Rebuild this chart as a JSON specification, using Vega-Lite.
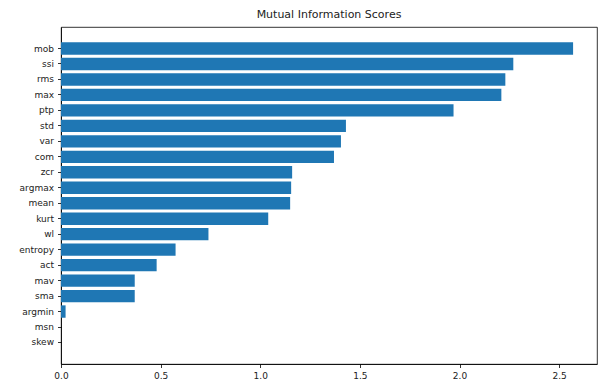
{
  "$schema": "https://vega.github.io/schema/vega-lite/v6.json",
  "autosize": {"type": "none"},
  "padding": {"left": 61, "top": 27, "right": 1, "bottom": 23},
  "width": 536,
  "height": 337,
  "title": {
    "text": "Mutual Information Scores",
    "font": "DejaVu Sans",
    "fontSize": 11,
    "fontWeight": "normal",
    "color": "#222222",
    "anchor": "middle",
    "offset": 7
  },
  "data": {
    "values": [
      {"feature": "mob", "score": 2.57},
      {"feature": "ssi", "score": 2.27},
      {"feature": "rms", "score": 2.23},
      {"feature": "max", "score": 2.21},
      {"feature": "ptp", "score": 1.97},
      {"feature": "std", "score": 1.43},
      {"feature": "var", "score": 1.405},
      {"feature": "com", "score": 1.37},
      {"feature": "zcr", "score": 1.16},
      {"feature": "argmax", "score": 1.155},
      {"feature": "mean", "score": 1.15},
      {"feature": "kurt", "score": 1.04},
      {"feature": "wl", "score": 0.74},
      {"feature": "entropy", "score": 0.575},
      {"feature": "act", "score": 0.48},
      {"feature": "mav", "score": 0.37},
      {"feature": "sma", "score": 0.37},
      {"feature": "argmin", "score": 0.023},
      {"feature": "msn", "score": 0.0},
      {"feature": "skew", "score": 0.0}
    ]
  },
  "config": {
    "view": {"stroke": "#000000", "strokeWidth": 0.8},
    "axis": {
      "labelFont": "DejaVu Sans",
      "labelFontSize": 9,
      "labelColor": "#222222",
      "domainColor": "#000000",
      "domainWidth": 0.8,
      "tickColor": "#000000",
      "tickSize": 3.5,
      "tickWidth": 0.8,
      "grid": false,
      "title": null
    }
  },
  "mark": {"type": "bar", "color": "#1f77b4"},
  "encoding": {
    "y": {
      "field": "feature",
      "type": "nominal",
      "sort": null,
      "scale": {"paddingInner": 0.2, "paddingOuter": 0.99},
      "axis": {"labelPadding": 4}
    },
    "x": {
      "field": "score",
      "type": "quantitative",
      "scale": {"domain": [0, 2.69], "nice": false, "zero": true},
      "axis": {
        "values": [0, 0.5, 1, 1.5, 2, 2.5],
        "format": ".1f",
        "labelFlush": false,
        "labelPadding": 4
      }
    }
  }
}
